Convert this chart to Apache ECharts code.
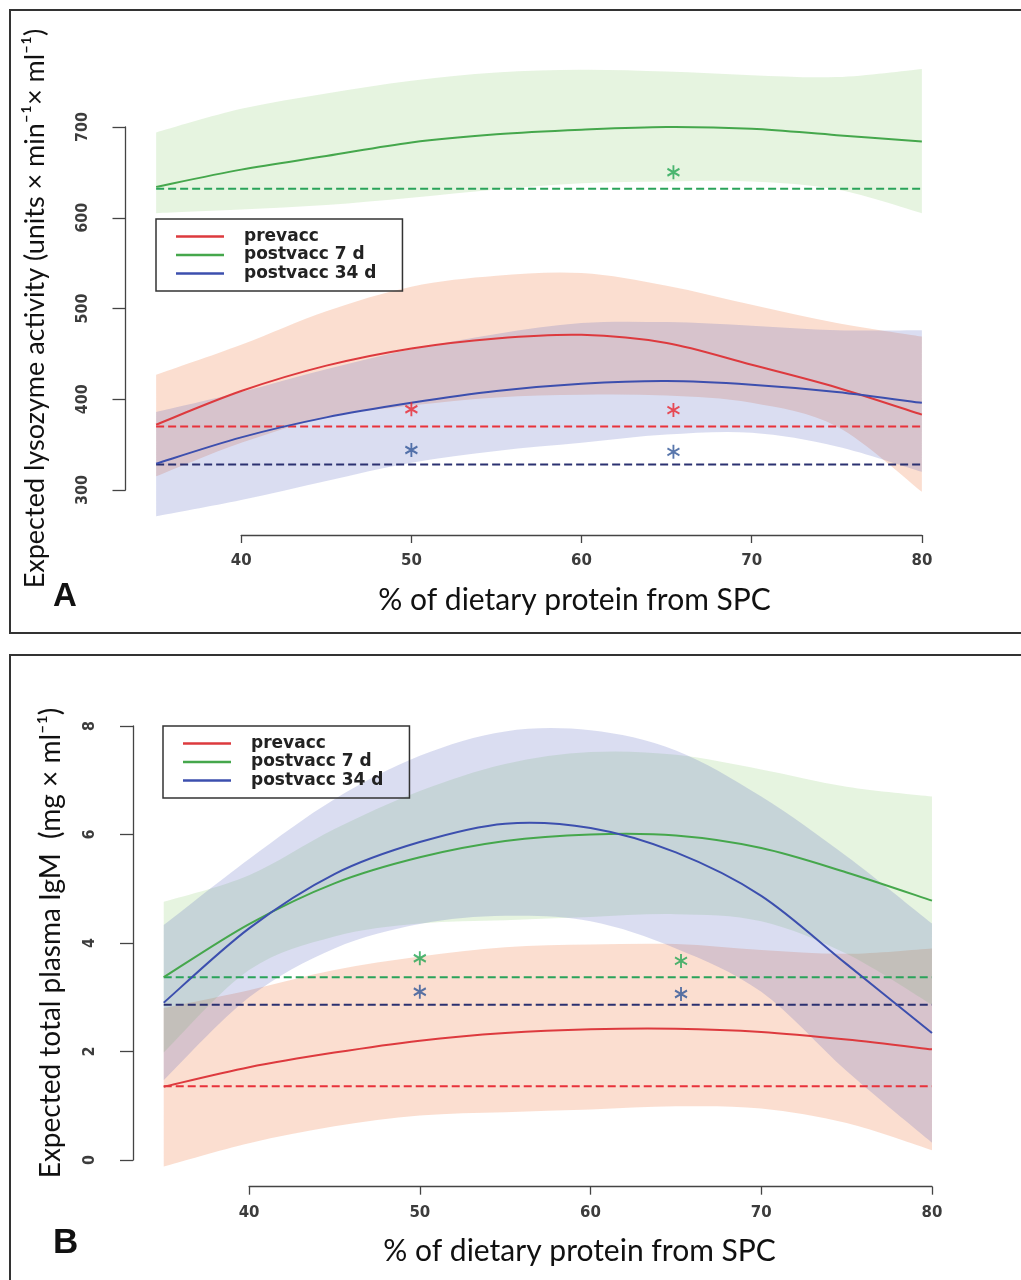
<!DOCTYPE html>
<html>
<head>
<meta charset="utf-8">
<script src="https://cdn.jsdelivr.net/npm/echarts@6/dist/echarts.min.js"></script>
<style>
  html, body { margin: 0; padding: 0; background: #fff; }
  #chart { width: 1021px; height: 1280px; }
</style>
</head>
<body>
<div id="chart"></div>
<script>
// % of dietary protein from SPC (fitted curve support)
const protein = [35, 40, 45, 50, 55, 60, 65, 70, 75, 80];
const proteinTicks = [40, 50, 60, 70, 80];
const groupNames = ['prevacc', 'postvacc 7 d', 'postvacc 34 d'];

// ---- Panel A: lysozyme activity (units x min-1 x ml-1) ----
const lysoTicks = [300, 400, 500, 600, 700];
const lysoPrevacc      = [372, 409, 437, 456, 467, 471, 462, 438, 413, 383];
const lysoPrevaccLow   = [315, 352, 380, 393, 402, 405, 404, 396, 370, 298];
const lysoPrevaccHigh  = [427, 460, 497, 524, 536, 539, 525, 504, 484, 469];
const lysoPost7        = [634, 653, 668, 683, 692, 697, 700, 698, 691, 684];
const lysoPost7Low     = [605, 609, 614, 622, 631, 638, 640, 640, 631, 605];
const lysoPost7High    = [694, 720, 737, 751, 760, 763, 761, 757, 755, 764];
const lysoPost34       = [329, 358, 380, 396, 409, 417, 420, 416, 408, 396];
const lysoPost34Low    = [271, 289, 310, 330, 343, 352, 361, 363, 348, 320];
const lysoPost34High   = [386, 408, 433, 455, 472, 484, 485, 481, 476, 476];
const lysoReference    = [370, 632, 328];          // prevacc, 7 d, 34 d (control diet)
const lysoMarkX        = [50, 65.4];
const lysoMarkPrevacc  = [389, 388];
const lysoMarkPost7    = [null, 650];
const lysoMarkPost34   = [344, 342];

// ---- Panel B: total plasma IgM (mg x ml-1) ----
const igmTicks = [0, 2, 4, 6, 8];
const igmPrevacc      = [1.35, 1.71, 1.98, 2.20, 2.34, 2.41, 2.42, 2.36, 2.22, 2.04];
const igmPrevaccLow   = [-0.12, 0.31, 0.62, 0.82, 0.88, 0.93, 0.99, 0.95, 0.68, 0.18];
const igmPrevaccHigh  = [2.80, 3.13, 3.50, 3.75, 3.92, 3.97, 3.98, 3.87, 3.80, 3.90];
const igmPost7        = [3.37, 4.35, 5.10, 5.58, 5.88, 6.00, 5.98, 5.75, 5.30, 4.78];
const igmPost7Low     = [1.98, 3.50, 4.12, 4.36, 4.42, 4.48, 4.53, 4.40, 3.80, 2.86];
const igmPost7High    = [4.76, 5.25, 6.10, 6.80, 7.30, 7.52, 7.47, 7.20, 6.88, 6.70];
const igmPost34       = [2.90, 4.27, 5.27, 5.86, 6.20, 6.12, 5.67, 4.87, 3.61, 2.34];
const igmPost34Low    = [1.47, 3.00, 3.90, 4.35, 4.50, 4.40, 3.90, 3.10, 1.64, 0.32];
const igmPost34High   = [4.33, 5.55, 6.65, 7.45, 7.90, 7.92, 7.55, 6.70, 5.60, 4.36];
const igmReference    = [1.36, 3.37, 2.86];
const igmMarkX        = [50, 65.3];
const igmMarkPost7    = [3.72, 3.67];
const igmMarkPost34   = [3.10, 3.06];

// ---- styling ----
const lineColors  = ['#dd3a3e', '#45a74c', '#3c4fae'];
const refColors   = ['#e8323a', '#2aa35a', '#2b3170'];
const bandColors  = ['rgba(240,132,82,0.27)', 'rgba(130,200,100,0.20)', 'rgba(80,95,190,0.21)'];
const markColors  = ['#e8262e', '#22a552', '#2f5597'];

const tickFont = '"DejaVu Sans", sans-serif';
const yTickFont = '"Liberation Sans Narrow", "DejaVu Sans Condensed", sans-serif';
const titleFont = 'Lato, "Open Sans", sans-serif';

// Catmull-Rom spline through pixel points, written as cubic Bezier path commands
function splineCommands(pts) {
  let d = '';
  for (let i = 0; i < pts.length - 1; i++) {
    const p0 = pts[Math.max(i - 1, 0)], p1 = pts[i], p2 = pts[i + 1], p3 = pts[Math.min(i + 2, pts.length - 1)];
    const c1 = [p1[0] + (p2[0] - p0[0]) / 6, p1[1] + (p2[1] - p0[1]) / 6];
    const c2 = [p2[0] - (p3[0] - p1[0]) / 6, p2[1] - (p3[1] - p1[1]) / 6];
    d += ' C' + c1[0] + ',' + c1[1] + ' ' + c2[0] + ',' + c2[1] + ' ' + p2[0] + ',' + p2[1];
  }
  return d;
}

function rows() { return protein.map((x, i) => [x, i]); }

// shaded confidence band between lower and upper estimates
function bandSeries(id, axis, lower, upper, color) {
  return {
    type: 'custom', name: id, xAxisIndex: axis, yAxisIndex: axis, silent: true, z: 1,
    data: rows(),
    renderItem: function (params, api) {
      if (params.dataIndex !== 0) return null;
      const top = protein.map((x, i) => api.coord([x, upper[i]]));
      const bottom = protein.map((x, i) => api.coord([x, lower[i]])).reverse();
      const d = 'M' + top[0][0] + ',' + top[0][1] + splineCommands(top) +
                ' L' + bottom[0][0] + ',' + bottom[0][1] + splineCommands(bottom) + ' Z';
      return { type: 'path', shape: { pathData: d }, style: { fill: color, stroke: null } };
    }
  };
}

// fitted response curve
function curveSeries(name, axis, values, color) {
  return {
    type: 'custom', name: name, xAxisIndex: axis, yAxisIndex: axis, silent: true, z: 4,
    itemStyle: { color: color },
    data: rows(),
    renderItem: function (params, api) {
      if (params.dataIndex !== 0) return null;
      const pts = protein.map((x, i) => api.coord([x, values[i]]));
      const d = 'M' + pts[0][0] + ',' + pts[0][1] + splineCommands(pts);
      return { type: 'path', shape: { pathData: d }, style: { fill: 'none', stroke: color, lineWidth: 2 } };
    }
  };
}

function referenceSeries(id, axis, value, color) {
  return {
    type: 'line', name: id, xAxisIndex: axis, yAxisIndex: axis,
    data: [[protein[0], value], [protein[protein.length - 1], value]],
    symbol: 'none', silent: true, z: 3,
    lineStyle: { color: color, width: 2, type: [8, 4] }
  };
}

const asterisk = 'path://M10,0L10,20M1.34,5L18.66,15M1.34,15L18.66,5';
function markSeries(id, axis, xs, ys, color) {
  const pts = [];
  xs.forEach((x, i) => { if (ys[i] != null) pts.push([x, ys[i]]); });
  return {
    type: 'scatter', name: id, xAxisIndex: axis, yAxisIndex: axis, data: pts,
    symbol: asterisk, symbolSize: [12, 14], silent: true, z: 5,
    itemStyle: { color: 'none', borderColor: color, borderWidth: 2 }
  };
}

function panelSeries(key, axis, curves, lows, highs, refs, markX, marks) {
  const out = [];
  for (let g = 0; g < 3; g++) out.push(bandSeries(key + ' band ' + g, axis, lows[g], highs[g], bandColors[g]));
  for (let g = 0; g < 3; g++) out.push(referenceSeries(key + ' reference ' + g, axis, refs[g], refColors[g]));
  for (let g = 0; g < 3; g++) out.push(curveSeries(groupNames[g], axis, curves[g], lineColors[g]));
  for (let g = 0; g < 3; g++) if (marks[g]) out.push(markSeries(key + ' mark ' + g, axis, markX, marks[g], markColors[g]));
  return out;
}

const series = []
  .concat(panelSeries('lyso', 0,
    [lysoPrevacc, lysoPost7, lysoPost34],
    [lysoPrevaccLow, lysoPost7Low, lysoPost34Low],
    [lysoPrevaccHigh, lysoPost7High, lysoPost34High],
    lysoReference, lysoMarkX, [lysoMarkPrevacc, lysoMarkPost7, lysoMarkPost34]))
  .concat(panelSeries('igm', 3,
    [igmPrevacc, igmPost7, igmPost34],
    [igmPrevaccLow, igmPost7Low, igmPost34Low],
    [igmPrevaccHigh, igmPost7High, igmPost34High],
    igmReference, igmMarkX, [null, igmMarkPost7, igmMarkPost34]));

const axisLine = { show: true, lineStyle: { color: '#444', width: 1.3 } };
const hidden = { show: false, min: 0, max: 1 };

function displayX(grid, title, shift) {
  return {
    gridIndex: grid, type: 'value', position: 'bottom',
    min: proteinTicks[0], max: proteinTicks[proteinTicks.length - 1],
    interval: proteinTicks[1] - proteinTicks[0],
    axisLine: axisLine, splitLine: { show: false },
    axisTick: { show: true, length: 8, lineStyle: { color: '#444', width: 1.3 } },
    axisLabel: { margin: 19, fontFamily: tickFont, fontWeight: 'bold', fontSize: 15, color: '#3c3c3c' },
    name: title, nameLocation: 'middle', nameGap: 50,
    nameTextStyle: { fontFamily: titleFont, fontSize: 30, color: '#111', padding: [0, shift, 0, 0] }
  };
}

function displayY(grid, ticks, title, titleSize, gap) {
  return {
    gridIndex: grid, type: 'value', position: 'left',
    min: ticks[0], max: ticks[ticks.length - 1], interval: ticks[1] - ticks[0],
    axisLine: axisLine, splitLine: { show: false },
    axisTick: { show: true, length: 13, lineStyle: { color: '#444', width: 1.3 } },
    axisLabel: { rotate: 90, margin: 35, fontFamily: yTickFont, fontWeight: 'bold', fontSize: 16, color: '#3c3c3c' },
    name: title, nameLocation: 'middle', nameGap: gap, nameRotate: 90,
    nameTextStyle: { fontFamily: titleFont, fontSize: titleSize, color: '#111' }
  };
}

const xTitle = '% of dietary protein from SPC';

const legendBase = {
  data: groupNames, orient: 'vertical', icon: 'rect',
  itemWidth: 48, itemHeight: 2.5, itemGap: 1.5,
  borderColor: '#333', borderWidth: 1.5, borderRadius: 0,
  padding: [9, 26, 9, 20],
  textStyle: { fontFamily: tickFont, fontWeight: 'bold', fontSize: 17, color: '#222', padding: [0, 0, 0, 15] },
  selectedMode: false
};

const option = {
  animation: false,
  backgroundColor: '#fff',
  grid: [
    { left: 125.5, top: 50, width: 827, height: 485 },          // A data
    { left: 241.2, top: 50, width: 680.7, height: 485 },        // A x axis
    { left: 125.5, top: 127, width: 827, height: 363 },         // A y axis
    { left: 133, top: 711, width: 829.7, height: 475.7 },       // B data
    { left: 249.1, top: 711, width: 682.9, height: 475.7 },     // B x axis
    { left: 133, top: 726, width: 829.7, height: 434 }          // B y axis
  ],
  xAxis: [
    { gridIndex: 0, type: 'value', min: 33.2, max: 81.8, show: false },
    displayX(1, xTitle, 14),
    Object.assign({ gridIndex: 2, type: 'value' }, hidden),
    { gridIndex: 3, type: 'value', min: 33.2, max: 81.8, show: false },
    displayX(4, xTitle, 22),
    Object.assign({ gridIndex: 5, type: 'value' }, hidden)
  ],
  yAxis: [
    { gridIndex: 0, type: 'value', min: 250.4, max: 784.8, show: false },
    Object.assign({ gridIndex: 1, type: 'value' }, hidden),
    displayY(2, lysoTicks, 'Expected lysozyme activity (units × min⁻¹× ml⁻¹)', 27, 77),
    { gridIndex: 3, type: 'value', min: -0.492, max: 8.276, show: false },
    Object.assign({ gridIndex: 4, type: 'value' }, hidden),
    displayY(5, igmTicks, 'Expected total plasma IgM  (mg × ml⁻¹)', 28, 68)
  ],
  legend: [
    Object.assign({}, legendBase, { left: 156, top: 219 }),
    Object.assign({}, legendBase, { left: 163, top: 726 })
  ],
  graphic: [
    { type: 'rect', silent: true, z: 0, shape: { x: 10, y: 10, width: 1040, height: 623 },
      style: { fill: 'none', stroke: '#333', lineWidth: 2 } },
    { type: 'rect', silent: true, z: 0, shape: { x: 10, y: 655, width: 1040, height: 660 },
      style: { fill: 'none', stroke: '#333', lineWidth: 2 } },
    { type: 'text', silent: true, x: 53, y: 580,
      style: { text: 'A', fontFamily: '"Liberation Sans", Arial, sans-serif', fontWeight: 'bold', fontSize: 33, fill: '#111', verticalAlign: 'top' } },
    { type: 'text', silent: true, x: 53, y: 1226,
      style: { text: 'B', fontFamily: '"Liberation Sans", Arial, sans-serif', fontWeight: 'bold', fontSize: 35, fill: '#111', verticalAlign: 'top' } }
  ],
  series: series
};

const chart = echarts.init(document.getElementById('chart'));
chart.setOption(option);
</script>
</body>
</html>
